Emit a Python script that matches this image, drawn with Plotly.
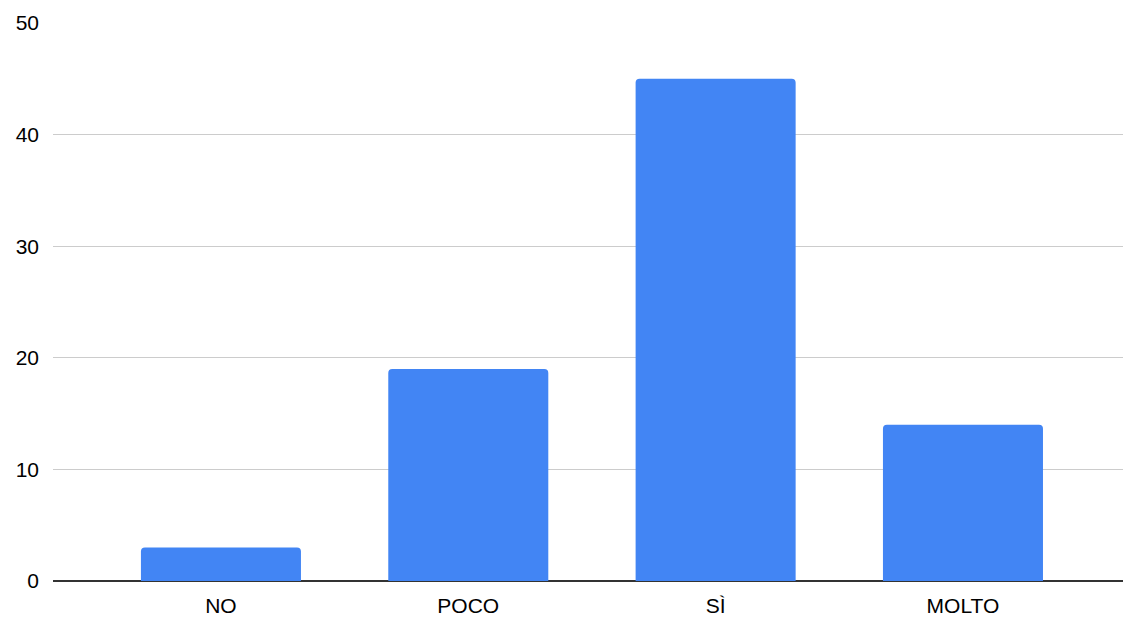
import plotly.graph_objects as go

categories = ["NO", "POCO", "SÌ", "MOLTO"]
values = [3, 19, 45, 14]
y_ticks = [0, 10, 20, 30, 40, 50]

fig = go.Figure(go.Bar(
    x=categories, y=values,
    marker=dict(color="#4285F4", line=dict(width=0), cornerradius=4),
    width=0.647,
))

fig.update_layout(
    width=1123, height=618,
    margin=dict(l=53, r=0, t=23, b=37),
    paper_bgcolor="white", plot_bgcolor="white",
    font=dict(family="Liberation Sans, Arial, sans-serif", size=21, color="#000000"),
    showlegend=False,
)
fig.update_xaxes(
    range=[-0.679, 3.647], showgrid=False, ticks="", ticklabelstandoff=10,
    showline=False, zeroline=False,
)
fig.update_yaxes(
    range=[0, 50], tickvals=y_ticks, showgrid=True, gridcolor="#cccccc", gridwidth=1,
    zeroline=True, zerolinecolor="#333333", zerolinewidth=1.5,
    ticks="", ticklabelstandoff=13, showline=False,
)

fig.write_html(
    "out.html",
    config={"displayModeBar": False},
    post_script="document.body.style.margin='0';document.body.style.overflow='hidden';",
)
